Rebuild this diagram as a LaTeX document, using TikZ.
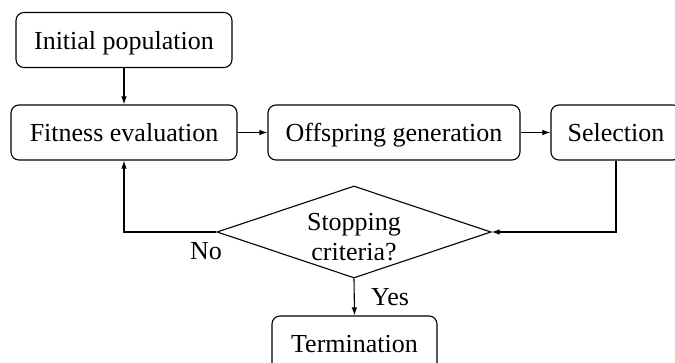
\documentclass[tikz,border=0pt]{standalone}
\usepackage{fontspec}
\setmainfont{Liberation Serif}
\usetikzlibrary{shapes.geometric,arrows.meta}
\begin{document}
\begin{tikzpicture}[x=1pt,y=-1pt,
  font=\fontsize{26}{30}\selectfont,
  line width=1.1pt,
  stepbox/.style={draw,rounded corners=8pt,inner sep=0pt,minimum height=55pt,
    text height=19pt,text depth=0pt},
  decision/.style={draw,diamond,aspect=3,inner sep=0pt,align=center,
    minimum width=274pt,minimum height=92pt},
  flow/.style={-{Latex[length=8pt,width=5.5pt]}},
  tag/.style={inner sep=0pt}]
\useasboundingbox (0,0) rectangle (675,363);
\clip (0,0) rectangle (675,363);
% process boxes
\node[stepbox,minimum width=216pt] (init) at (124,40)    {Initial population};
\node[stepbox,minimum width=226pt] (fit)  at (124,132.5) {Fitness evaluation};
\node[stepbox,minimum width=252pt] (off)  at (394,132.5) {Offspring generation};
\node[stepbox,minimum width=130pt] (sel)  at (616,132.5) {Selection};
% decision; the strut on the first line sets the text a little lower
\node[decision] (dia) at (354,232) {\rule{0pt}{27pt}Stopping\\criteria?};
\node[stepbox,minimum width=165pt] (term) at (354.5,343.5) {Termination};
% branch labels
\node[tag] (no)  at (206,251) {No};
\node[tag] (yes) at (390,297) {Yes};
% connectors
\draw[flow] (init) -- (fit);
\draw[flow] (fit) -- (off);
\draw[flow] (off) -- (sel);
\draw[flow] (sel.south) |- (dia.east);
\draw[flow] (dia.west) -| (fit.south);
\draw[flow] (dia.south) -- (term.north);
\end{tikzpicture}
\end{document}
